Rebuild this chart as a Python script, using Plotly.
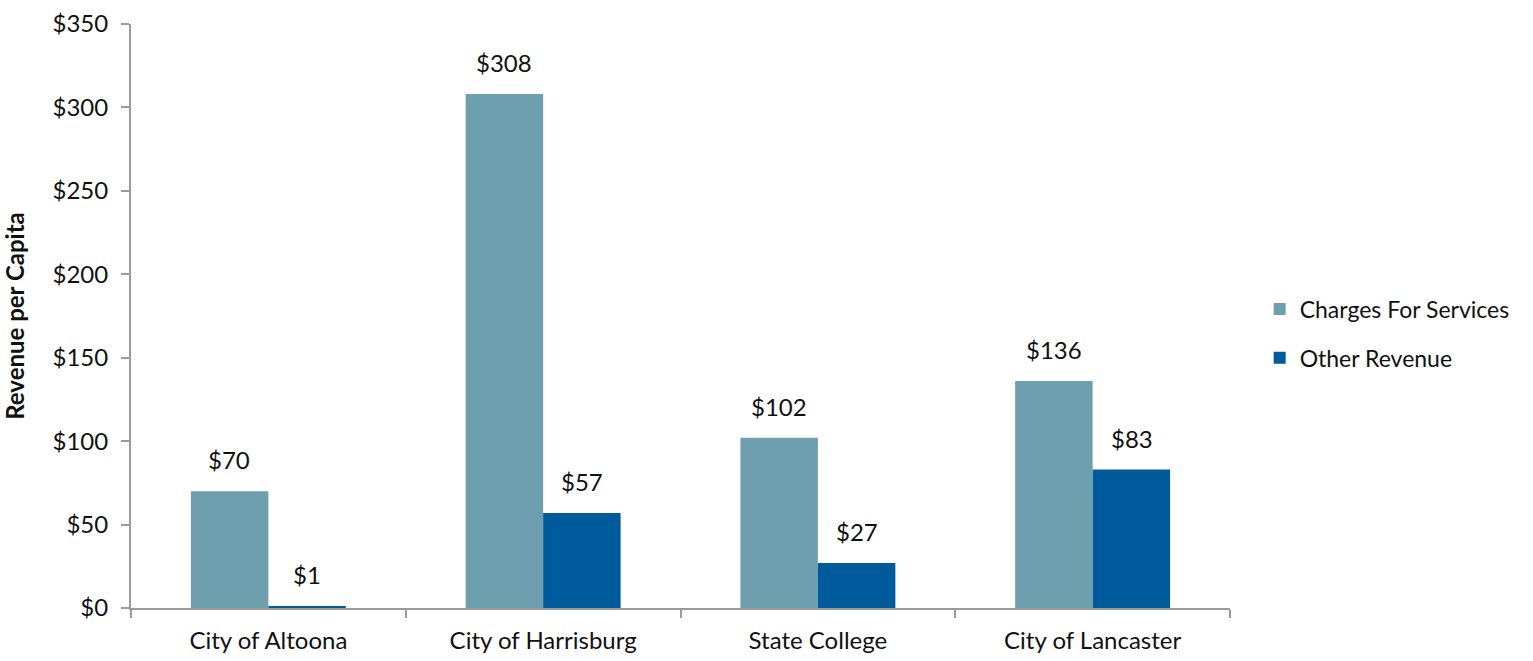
import plotly.graph_objects as go

categories = ["City of Altoona", "City of Harrisburg", "State College", "City of Lancaster"]
charges_for_services = [70, 308, 102, 136]
other_revenue = [1, 57, 27, 83]
y_ticks = [0, 50, 100, 150, 200, 250, 300, 350]
y_tick_labels = ["$" + str(v) for v in y_ticks]

FONT = "Lato, 'DejaVu Sans', sans-serif"
AXIS_GREY = "#9a9a9a"
TEXT = "#111111"

fig = go.Figure()
fig.add_trace(go.Bar(
    name="Charges For Services", x=categories, y=charges_for_services,
    marker=dict(color="#6E9FAF", line=dict(width=0)),
    legendgroup="a",
))
fig.add_trace(go.Bar(
    name="Other Revenue", x=categories, y=other_revenue,
    marker=dict(color="#005B9C", line=dict(width=0)),
    legendgroup="b",
))

# value labels above each bar, offset to sit over the grouped bars
for vals, shift in ((charges_for_services, -39), (other_revenue, 39)):
    for cat, v in zip(categories, vals):
        fig.add_annotation(
            x=cat, y=v, xref="x", yref="y", text=f"${v}", showarrow=False,
            xshift=shift, yshift=15, yanchor="bottom",
            font=dict(family=FONT, size=24, color=TEXT),
        )

fig.update_layout(
    width=1533, height=661,
    margin=dict(l=131, r=303, t=24, b=53),
    paper_bgcolor="white", plot_bgcolor="white",
    barmode="group", bargap=0.436, bargroupgap=0,
    font=dict(family=FONT, size=24, color=TEXT),
    legend=dict(
        x=1.027, y=0.47, xanchor="left", yanchor="middle",
        traceorder="grouped", tracegroupgap=16,
        font=dict(family=FONT, size=23, color=TEXT),
    ),
    showlegend=True,
)
fig.update_xaxes(
    automargin=False,
    showline=True, linecolor=AXIS_GREY, linewidth=2,
    ticks="outside", tickson="boundaries", ticklen=8, tickcolor=AXIS_GREY, tickwidth=2,
    tickfont=dict(family=FONT, size=24, color=TEXT), ticklabelstandoff=10,
    showgrid=False,
)
fig.update_yaxes(
    automargin=False,
    range=[0, 350], tickvals=y_ticks, ticktext=y_tick_labels,
    showline=True, linecolor=AXIS_GREY, linewidth=2,
    ticks="outside", ticklen=8, tickcolor=AXIS_GREY, tickwidth=2,
    tickfont=dict(family=FONT, size=24, color=TEXT), ticklabelstandoff=8,
    showgrid=False, zeroline=False,
    title=dict(text="<b>Revenue per Capita</b>", font=dict(family=FONT, size=24, color=TEXT), standoff=22),
)

fig.write_html("out.html")
